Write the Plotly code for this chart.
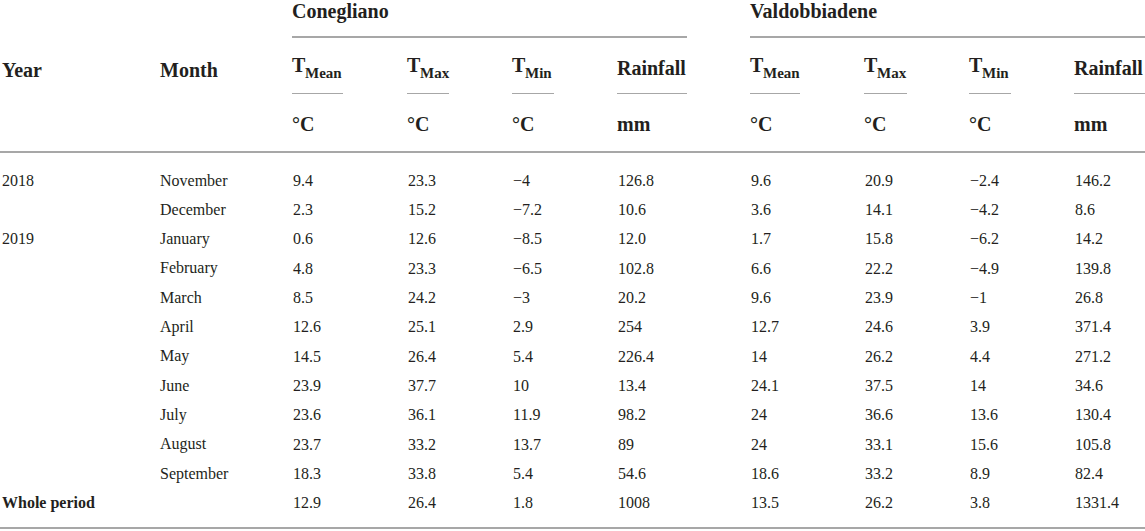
import plotly.graph_objects as go

# Datos de la tabla
years = ["2018", "", "2019", "", "", "", "", "", "", "", ""]
months = ["November", "December", "January", "February", "March", "April",
          "May", "June", "July", "August", "September"]

sites = ["Conegliano", "Valdobbiadene"]
var_main = ["T", "T", "T", "Rainfall"]
var_sub = ["Mean", "Max", "Min", ""]
unit_labels = ["°C", "°C", "°C", "mm"]

con_tmean = ["9.4", "2.3", "0.6", "4.8", "8.5", "12.6", "14.5", "23.9", "23.6", "23.7", "18.3"]
con_tmax = ["23.3", "15.2", "12.6", "23.3", "24.2", "25.1", "26.4", "37.7", "36.1", "33.2", "33.8"]
con_tmin = ["−4", "−7.2", "−8.5", "−6.5", "−3", "2.9", "5.4", "10", "11.9", "13.7", "5.4"]
con_rain = ["126.8", "10.6", "12.0", "102.8", "20.2", "254", "226.4", "13.4", "98.2", "89", "54.6"]

val_tmean = ["9.6", "3.6", "1.7", "6.6", "9.6", "12.7", "14", "24.1", "24", "24", "18.6"]
val_tmax = ["20.9", "14.1", "15.8", "22.2", "23.9", "24.6", "26.2", "37.5", "36.6", "33.1", "33.2"]
val_tmin = ["−2.4", "−4.2", "−6.2", "−4.9", "−1", "3.9", "4.4", "14", "13.6", "15.6", "8.9"]
val_rain = ["146.2", "8.6", "14.2", "139.8", "26.8", "371.4", "271.2", "34.6", "130.4", "105.8", "82.4"]

total_label = "Whole period"
con_total = ["12.9", "26.4", "1.8", "1008"]
val_total = ["13.5", "26.2", "3.8", "1331.4"]

# Geometría (px)
W, H = 1145, 531
col_x = [292, 407, 512, 617, 750, 864, 969, 1074]
col_end = [343, 449, 554, 687, 800, 907, 1011, 1145]
site_x = [(292, 687), (750, 1145)]
row0, row_h = 180, 29.35

TXT = "#231f20"
RULE = "#a7a7a7"
FONT = "Liberation Serif"
HSIZE = 20

fig = go.Figure()
fig.add_trace(go.Scatter(x=[0, W], y=[0, H], mode="markers",
                         marker=dict(opacity=0), hoverinfo="skip", showlegend=False))

ann = []


def txt(x, y, s, bold=False, size=16):
    ann.append(dict(x=x, y=y, xref="x", yref="y", text=f"<b>{s}</b>" if bold else s,
                    showarrow=False, xanchor="left", yanchor="middle",
                    font=dict(family=FONT, size=size, color=TXT)))


# Cabecera
txt(0, 70, "Year", bold=True, size=HSIZE)
txt(158, 70, "Month", bold=True, size=HSIZE)
for (x0, x1), name in zip(site_x, sites):
    txt(x0 - 2, 11, name, bold=True, size=HSIZE)
for i, x in enumerate(col_x):
    k = i % 4
    if var_sub[k]:
        txt(x - 2, 65, var_main[k], bold=True, size=HSIZE)
        txt(x + 11, 73, var_sub[k], bold=True, size=15)
    else:
        txt(x - 2, 68, var_main[k], bold=True, size=HSIZE)
    txt(x - 2, 124, unit_labels[k], bold=True, size=HSIZE)

# Cuerpo
columns = [con_tmean, con_tmax, con_tmin, con_rain, val_tmean, val_tmax, val_tmin, val_rain]
for r, m in enumerate(months):
    y = row0 + r * row_h
    if years[r]:
        txt(0, y, years[r])
    txt(158, y, m)
    for c, col in enumerate(columns):
        txt(col_x[c] - 1, y, col[r])

y_tot = row0 + len(months) * row_h
txt(0, y_tot, total_label, bold=True)
for c, v in enumerate(con_total + val_total):
    txt(col_x[c] - 1, y_tot, v)

# Líneas
shapes = []
for x0, x1 in site_x:
    shapes.append(dict(type="line", x0=x0, x1=x1, y0=37, y1=37, xref="x", yref="y",
                       line=dict(color=RULE, width=2)))
for x0, x1 in zip(col_x, col_end):
    shapes.append(dict(type="line", x0=x0, x1=x1, y0=93.5, y1=93.5, xref="x", yref="y",
                       line=dict(color=RULE, width=1)))
for yy in [152, 528]:
    shapes.append(dict(type="line", x0=0, x1=W, y0=yy, y1=yy, xref="x", yref="y",
                       line=dict(color=RULE, width=2)))

fig.update_layout(
    width=W, height=H,
    margin=dict(l=0, r=0, t=0, b=0),
    plot_bgcolor="white", paper_bgcolor="white",
    annotations=ann, shapes=shapes,
    xaxis=dict(range=[0, W], visible=False, fixedrange=True),
    yaxis=dict(range=[H, 0], visible=False, fixedrange=True),
)

fig.write_html("out.html", config={"displayModeBar": False},
               post_script="document.body.style.margin='0';document.body.style.overflow='hidden';")
